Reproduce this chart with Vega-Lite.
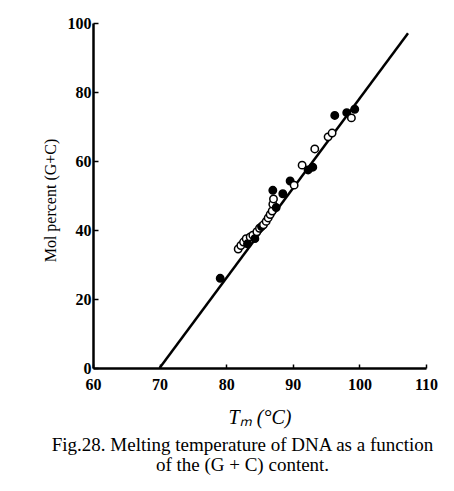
{
  "$schema": "https://vega.github.io/schema/vega-lite/v6.json",
  "width": 333,
  "height": 345,
  "autosize": {"type": "none"},
  "padding": {"left": 93, "top": 23, "right": 28, "bottom": 123},
  "background": "white",
  "config": {"view": {"stroke": null}, "font": "Liberation Serif"},
  "title": {
    "text": ["Fig.28. Melting temperature of DNA as a function", "of the (G + C) content."],
    "orient": "bottom",
    "anchor": "middle",
    "dx": -17,
    "offset": 9,
    "font": "Liberation Serif",
    "fontSize": 19,
    "fontWeight": "normal",
    "lineHeight": 20,
    "color": "black"
  },
  "datasets": {
    "points": [
      {"tm": 79.1, "gc": 26.0, "kind": "filled"},
      {"tm": 81.8, "gc": 34.5, "kind": "open"},
      {"tm": 82.2, "gc": 35.5, "kind": "open"},
      {"tm": 82.6, "gc": 36.5, "kind": "open"},
      {"tm": 83.0, "gc": 37.5, "kind": "open"},
      {"tm": 83.2, "gc": 36.0, "kind": "filled"},
      {"tm": 83.6, "gc": 38.0, "kind": "open"},
      {"tm": 84.0, "gc": 38.5, "kind": "open"},
      {"tm": 84.3, "gc": 37.5, "kind": "filled"},
      {"tm": 84.6, "gc": 39.5, "kind": "open"},
      {"tm": 85.0, "gc": 40.5, "kind": "open"},
      {"tm": 85.3, "gc": 41.0, "kind": "filled"},
      {"tm": 85.6, "gc": 41.5, "kind": "open"},
      {"tm": 86.0, "gc": 42.5, "kind": "open"},
      {"tm": 86.3, "gc": 43.5, "kind": "open"},
      {"tm": 86.6, "gc": 44.5, "kind": "open"},
      {"tm": 86.9, "gc": 45.5, "kind": "open"},
      {"tm": 87.0, "gc": 47.5, "kind": "open"},
      {"tm": 87.1, "gc": 49.0, "kind": "open"},
      {"tm": 87.0, "gc": 51.5, "kind": "filled"},
      {"tm": 87.5, "gc": 46.5, "kind": "filled"},
      {"tm": 88.5, "gc": 50.5, "kind": "filled"},
      {"tm": 89.6, "gc": 54.2, "kind": "filled"},
      {"tm": 90.2, "gc": 53.0, "kind": "open"},
      {"tm": 91.4, "gc": 58.8, "kind": "open"},
      {"tm": 92.3, "gc": 57.4, "kind": "filled"},
      {"tm": 93.0, "gc": 58.2, "kind": "filled"},
      {"tm": 93.3, "gc": 63.5, "kind": "open"},
      {"tm": 95.3, "gc": 67.0, "kind": "open"},
      {"tm": 95.9, "gc": 68.1, "kind": "open"},
      {"tm": 96.3, "gc": 73.2, "kind": "filled"},
      {"tm": 98.1, "gc": 74.0, "kind": "filled"},
      {"tm": 98.8, "gc": 72.5, "kind": "open"},
      {"tm": 99.3, "gc": 75.0, "kind": "filled"}
    ],
    "fit": [
      {"tm": 70.0, "gc": 0.0},
      {"tm": 107.3, "gc": 97.0}
    ]
  },
  "layer": [
    {
      "data": {"name": "fit"},
      "mark": {"type": "line", "color": "black", "strokeWidth": 2.5},
      "encoding": {
        "x": {
          "field": "tm", "type": "quantitative",
          "scale": {"domain": [60, 110], "nice": false, "zero": false},
          "axis": {
            "values": [60, 70, 80, 90, 100, 110],
            "title": "Tₘ (°C)",
            "titleFont": "Liberation Serif",
            "titleFontSize": 20,
            "titleFontWeight": "normal",
            "titleFontStyle": "italic",
            "titleColor": "black",
            "titlePadding": 15,
            "labelFont": "Liberation Serif",
            "labelFontSize": 16,
            "labelFontWeight": "bold",
            "labelColor": "black",
            "labelPadding": 12,
            "labelFlush": false,
            "domainColor": "black",
            "domainWidth": 2.5,
            "tickColor": "black",
            "tickSize": -4,
            "tickWidth": 1.5,
            "grid": false
          }
        },
        "y": {
          "field": "gc", "type": "quantitative",
          "scale": {"domain": [0, 100], "nice": false},
          "axis": {
            "values": [0, 20, 40, 60, 80, 100],
            "title": "Mol percent (G+C)",
            "titleFont": "Liberation Serif",
            "titleFontSize": 16,
            "titleFontWeight": "normal",
            "titleColor": "black",
            "titlePadding": 9,
            "titleY": 177,
            "labelFont": "Liberation Serif",
            "labelFontSize": 16,
            "labelFontWeight": "bold",
            "labelColor": "black",
            "labelPadding": 7,
            "labelFlush": false,
            "domainColor": "black",
            "domainWidth": 2.5,
            "tickColor": "black",
            "tickSize": -5,
            "tickWidth": 1.5,
            "grid": false
          }
        }
      }
    },
    {
      "data": {"name": "points"},
      "mark": {"type": "point", "shape": "circle", "size": 55, "strokeWidth": 1.5, "opacity": 1},
      "encoding": {
        "x": {"field": "tm", "type": "quantitative"},
        "y": {"field": "gc", "type": "quantitative"},
        "fill": {
          "field": "kind", "type": "nominal",
          "scale": {"domain": ["filled", "open"], "range": ["black", "white"]},
          "legend": null
        },
        "stroke": {"value": "black"}
      }
    }
  ]
}
